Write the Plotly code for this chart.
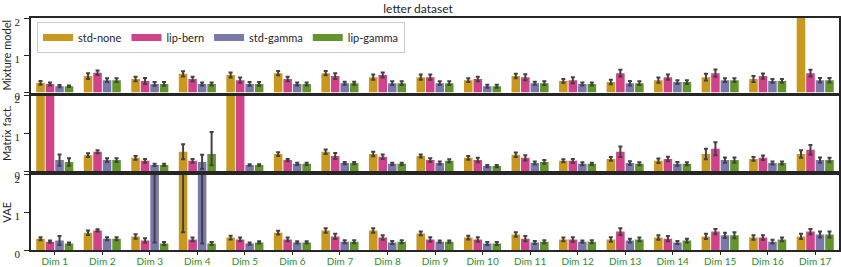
import plotly.graph_objects as go

DIMS = [f"Dim {i}" for i in range(1, 18)]
SERIES = ["std-none", "lip-bern", "std-gamma", "lip-gamma"]
COLORS = ["#c9991f", "#d14289", "#7a77ab", "#62952b"]
PANELS = ["Mixture model", "Matrix fact.", "VAE"]
Y_TICKS = [0, 1, 2]

# ---- Mixture model ----
MIX_STD_NONE = [0.26, 0.44, 0.36, 0.50, 0.47, 0.52, 0.52, 0.41, 0.41, 0.33, 0.44, 0.31, 0.28, 0.33, 0.41, 0.36, 4.00]
MIX_STD_NONE_ERR = [0.05, 0.08, 0.06, 0.07, 0.07, 0.06, 0.06, 0.07, 0.07, 0.05, 0.06, 0.05, 0.06, 0.07, 0.09, 0.08, 0.50]
MIX_LIP_BERN = [0.23, 0.53, 0.31, 0.36, 0.33, 0.36, 0.44, 0.47, 0.41, 0.36, 0.41, 0.33, 0.52, 0.41, 0.52, 0.44, 0.52]
MIX_LIP_BERN_ERR = [0.04, 0.06, 0.08, 0.06, 0.07, 0.06, 0.08, 0.07, 0.07, 0.06, 0.08, 0.08, 0.09, 0.07, 0.10, 0.07, 0.09]
MIX_STD_GAMMA = [0.17, 0.33, 0.23, 0.23, 0.23, 0.23, 0.25, 0.25, 0.25, 0.17, 0.25, 0.23, 0.25, 0.28, 0.33, 0.31, 0.33]
MIX_STD_GAMMA_ERR = [0.03, 0.05, 0.05, 0.04, 0.05, 0.04, 0.04, 0.05, 0.05, 0.04, 0.04, 0.04, 0.06, 0.05, 0.05, 0.05, 0.06]
MIX_LIP_GAMMA = [0.17, 0.33, 0.23, 0.23, 0.23, 0.23, 0.25, 0.25, 0.25, 0.17, 0.25, 0.23, 0.25, 0.28, 0.33, 0.31, 0.33]
MIX_LIP_GAMMA_ERR = [0.02, 0.05, 0.05, 0.04, 0.05, 0.04, 0.04, 0.05, 0.05, 0.04, 0.05, 0.04, 0.05, 0.05, 0.05, 0.05, 0.06]

# ---- Matrix factorization ----
MF_STD_NONE = [5.00, 0.42, 0.35, 0.51, 5.00, 0.45, 0.51, 0.45, 0.40, 0.35, 0.43, 0.27, 0.32, 0.27, 0.45, 0.32, 0.45]
MF_STD_NONE_ERR = [1.00, 0.05, 0.05, 0.20, 1.00, 0.05, 0.06, 0.06, 0.04, 0.05, 0.06, 0.04, 0.05, 0.06, 0.14, 0.05, 0.10]
MF_LIP_BERN = [5.00, 0.51, 0.27, 0.27, 5.00, 0.29, 0.40, 0.38, 0.29, 0.29, 0.35, 0.27, 0.51, 0.32, 0.59, 0.35, 0.56]
MF_LIP_BERN_ERR = [1.00, 0.04, 0.05, 0.05, 1.00, 0.03, 0.08, 0.06, 0.05, 0.06, 0.07, 0.05, 0.14, 0.06, 0.17, 0.06, 0.13]
MF_STD_GAMMA = [0.29, 0.29, 0.16, 0.24, 0.16, 0.19, 0.21, 0.19, 0.21, 0.13, 0.21, 0.19, 0.21, 0.19, 0.29, 0.21, 0.29]
MF_STD_GAMMA_ERR = [0.15, 0.05, 0.03, 0.19, 0.02, 0.03, 0.03, 0.03, 0.04, 0.03, 0.04, 0.04, 0.05, 0.05, 0.07, 0.04, 0.07]
MF_LIP_GAMMA = [0.24, 0.29, 0.16, 0.45, 0.16, 0.19, 0.21, 0.19, 0.27, 0.13, 0.24, 0.19, 0.19, 0.19, 0.29, 0.21, 0.29]
MF_LIP_GAMMA_ERR = [0.10, 0.05, 0.03, 0.58, 0.02, 0.03, 0.03, 0.03, 0.04, 0.03, 0.05, 0.03, 0.04, 0.04, 0.07, 0.04, 0.06]
MF_LIP_GAMMA_ERR_LOW = [0.10, 0.05, 0.03, 0.30, 0.02, 0.03, 0.03, 0.03, 0.04, 0.03, 0.05, 0.03, 0.04, 0.04, 0.07, 0.04, 0.06]

# ---- VAE ----
VAE_STD_NONE = [0.30, 0.46, 0.36, 3.00, 0.33, 0.46, 0.52, 0.52, 0.44, 0.33, 0.41, 0.28, 0.28, 0.33, 0.36, 0.33, 0.36]
VAE_STD_NONE_ERR = [0.04, 0.06, 0.06, 0.50, 0.05, 0.05, 0.06, 0.06, 0.05, 0.05, 0.06, 0.05, 0.06, 0.06, 0.07, 0.06, 0.07]
VAE_STD_NONE_ERR_LOW = [0.04, 0.06, 0.06, 2.53, 0.05, 0.05, 0.06, 0.06, 0.05, 0.05, 0.06, 0.05, 0.06, 0.06, 0.07, 0.06, 0.07]
VAE_LIP_BERN = [0.22, 0.52, 0.25, 0.28, 0.28, 0.28, 0.36, 0.33, 0.28, 0.28, 0.30, 0.28, 0.49, 0.30, 0.49, 0.33, 0.49]
VAE_LIP_BERN_ERR = [0.03, 0.03, 0.06, 0.05, 0.05, 0.05, 0.07, 0.06, 0.06, 0.06, 0.07, 0.06, 0.09, 0.07, 0.07, 0.06, 0.07]
VAE_STD_GAMMA = [0.25, 0.30, 3.00, 3.00, 0.17, 0.20, 0.22, 0.20, 0.22, 0.17, 0.20, 0.22, 0.25, 0.20, 0.39, 0.22, 0.41]
VAE_STD_GAMMA_ERR = [0.12, 0.04, 0.50, 0.50, 0.03, 0.03, 0.04, 0.04, 0.03, 0.04, 0.04, 0.03, 0.05, 0.04, 0.07, 0.05, 0.08]
VAE_STD_GAMMA_ERR_LOW = [0.12, 0.04, 2.80, 2.83, 0.03, 0.03, 0.04, 0.04, 0.03, 0.04, 0.04, 0.03, 0.05, 0.04, 0.07, 0.05, 0.08]
VAE_LIP_GAMMA = [0.17, 0.30, 0.17, 0.17, 0.20, 0.20, 0.22, 0.22, 0.22, 0.17, 0.22, 0.22, 0.28, 0.25, 0.39, 0.28, 0.41]
VAE_LIP_GAMMA_ERR = [0.03, 0.04, 0.04, 0.04, 0.03, 0.03, 0.04, 0.04, 0.03, 0.04, 0.04, 0.04, 0.05, 0.05, 0.08, 0.05, 0.08]

PANEL_DATA = [
    [(MIX_STD_NONE, MIX_STD_NONE_ERR, MIX_STD_NONE_ERR),
     (MIX_LIP_BERN, MIX_LIP_BERN_ERR, MIX_LIP_BERN_ERR),
     (MIX_STD_GAMMA, MIX_STD_GAMMA_ERR, MIX_STD_GAMMA_ERR),
     (MIX_LIP_GAMMA, MIX_LIP_GAMMA_ERR, MIX_LIP_GAMMA_ERR)],
    [(MF_STD_NONE, MF_STD_NONE_ERR, MF_STD_NONE_ERR),
     (MF_LIP_BERN, MF_LIP_BERN_ERR, MF_LIP_BERN_ERR),
     (MF_STD_GAMMA, MF_STD_GAMMA_ERR, MF_STD_GAMMA_ERR),
     (MF_LIP_GAMMA, MF_LIP_GAMMA_ERR, MF_LIP_GAMMA_ERR_LOW)],
    [(VAE_STD_NONE, VAE_STD_NONE_ERR, VAE_STD_NONE_ERR_LOW),
     (VAE_LIP_BERN, VAE_LIP_BERN_ERR, VAE_LIP_BERN_ERR),
     (VAE_STD_GAMMA, VAE_STD_GAMMA_ERR, VAE_STD_GAMMA_ERR_LOW),
     (VAE_LIP_GAMMA, VAE_LIP_GAMMA_ERR, VAE_LIP_GAMMA_ERR)],
]

W, H = 841, 267
M_L, M_R, M_T, M_B = 31, 2, 18, 17
PH = H - M_T - M_B
DOMAINS = [
    [(250 - 92.5) / PH, 1.0],
    [(250 - 171) / PH, (250 - 95.5) / PH],
    [0.0, (250 - 174.7) / PH],
]

SANS = "Lato, 'DejaVu Sans', sans-serif"
SERIF = "'Liberation Serif', 'DejaVu Serif', serif"
FRAME = "#262626"

fig = go.Figure()
for p, series_list in enumerate(PANEL_DATA):
    ax = "" if p == 0 else str(p + 1)
    for s, (vals, ep, em) in enumerate(series_list):
        fig.add_trace(go.Bar(
            x=DIMS, y=vals, name=SERIES[s],
            marker=dict(color=COLORS[s], line=dict(width=0)),
            error_y=dict(type="data", array=ep, arrayminus=em, symmetric=False,
                         color="#424242", thickness=2, width=2),
            xaxis="x" + ax, yaxis="y" + ax, showlegend=False,
            offsetgroup=str(s),
        ))

# legend entries (wide swatches like the original)
for s in range(4):
    fig.add_trace(go.Scatter(
        x=[None], y=[None], mode="lines", name=SERIES[s],
        line=dict(color=COLORS[s], width=7), xaxis="x", yaxis="y",
        showlegend=True,
    ))

layout = dict(
    width=W, height=H,
    margin=dict(l=M_L, r=M_R, t=M_T, b=M_B, autoexpand=False),
    paper_bgcolor="white", plot_bgcolor="white",
    barmode="group", bargap=0.2, bargroupgap=0.1,
    title=dict(text="letter dataset", x=(418 - M_L) / (W - M_L - M_R), xanchor="center",
               xref="paper", y=1 - 8.5 / H, yanchor="middle", yref="container",
               font=dict(family=SANS, size=12, color="#262626")),
    legend=dict(orientation="h", x=(37 - M_L) / (W - M_L - M_R), xanchor="left",
                y=(250 - 22) / PH, yanchor="top",
                bgcolor="white", bordercolor="#cccccc", borderwidth=1,
                font=dict(family=SANS, size=11, color="#262626"),
                itemwidth=30, tracegroupgap=0),
    showlegend=True,
)

for p in range(3):
    ax = "" if p == 0 else str(p + 1)
    bottom = p == 2
    layout["xaxis" + ax] = dict(
        domain=[0, 1], anchor="y" + ax, automargin=False,
        type="category", categoryorder="array", categoryarray=DIMS,
        range=[-0.5, 16.5],
        showline=True, mirror=True, linecolor=FRAME, linewidth=1.5,
        showgrid=False, zeroline=False,
        ticks="outside" if bottom else "", ticklen=3, tickcolor=FRAME, tickwidth=1,
        showticklabels=bottom, ticklabelstandoff=-2,
        tickfont=dict(family=SANS, size=10, color="#1f8f1f"),
        **({} if p == 2 else {"matches": "x3"}),
    )
    layout["yaxis" + ax] = dict(
        domain=DOMAINS[p], anchor="x" + ax, automargin=False,
        range=[0, 2], tickvals=Y_TICKS, ticktext=[str(v) for v in Y_TICKS],
        showline=True, mirror=True, linecolor=FRAME, linewidth=1.5,
        showgrid=False, zeroline=False,
        ticks="outside", ticklen=5, tickcolor=FRAME, tickwidth=1,
        tickfont=dict(family=SERIF, size=11, color="#262626"),
        ticklabelshift=4, ticklabelstandoff=2,
        title=dict(text=PANELS[p], standoff=6,
                   font=dict(family=SANS, size=11, color="#262626")),
    )

fig.update_layout(**layout)
fig.write_html("out.html", config={"displayModeBar": False},
               post_script="document.body.style.margin='0';document.body.style.overflow='hidden';")
